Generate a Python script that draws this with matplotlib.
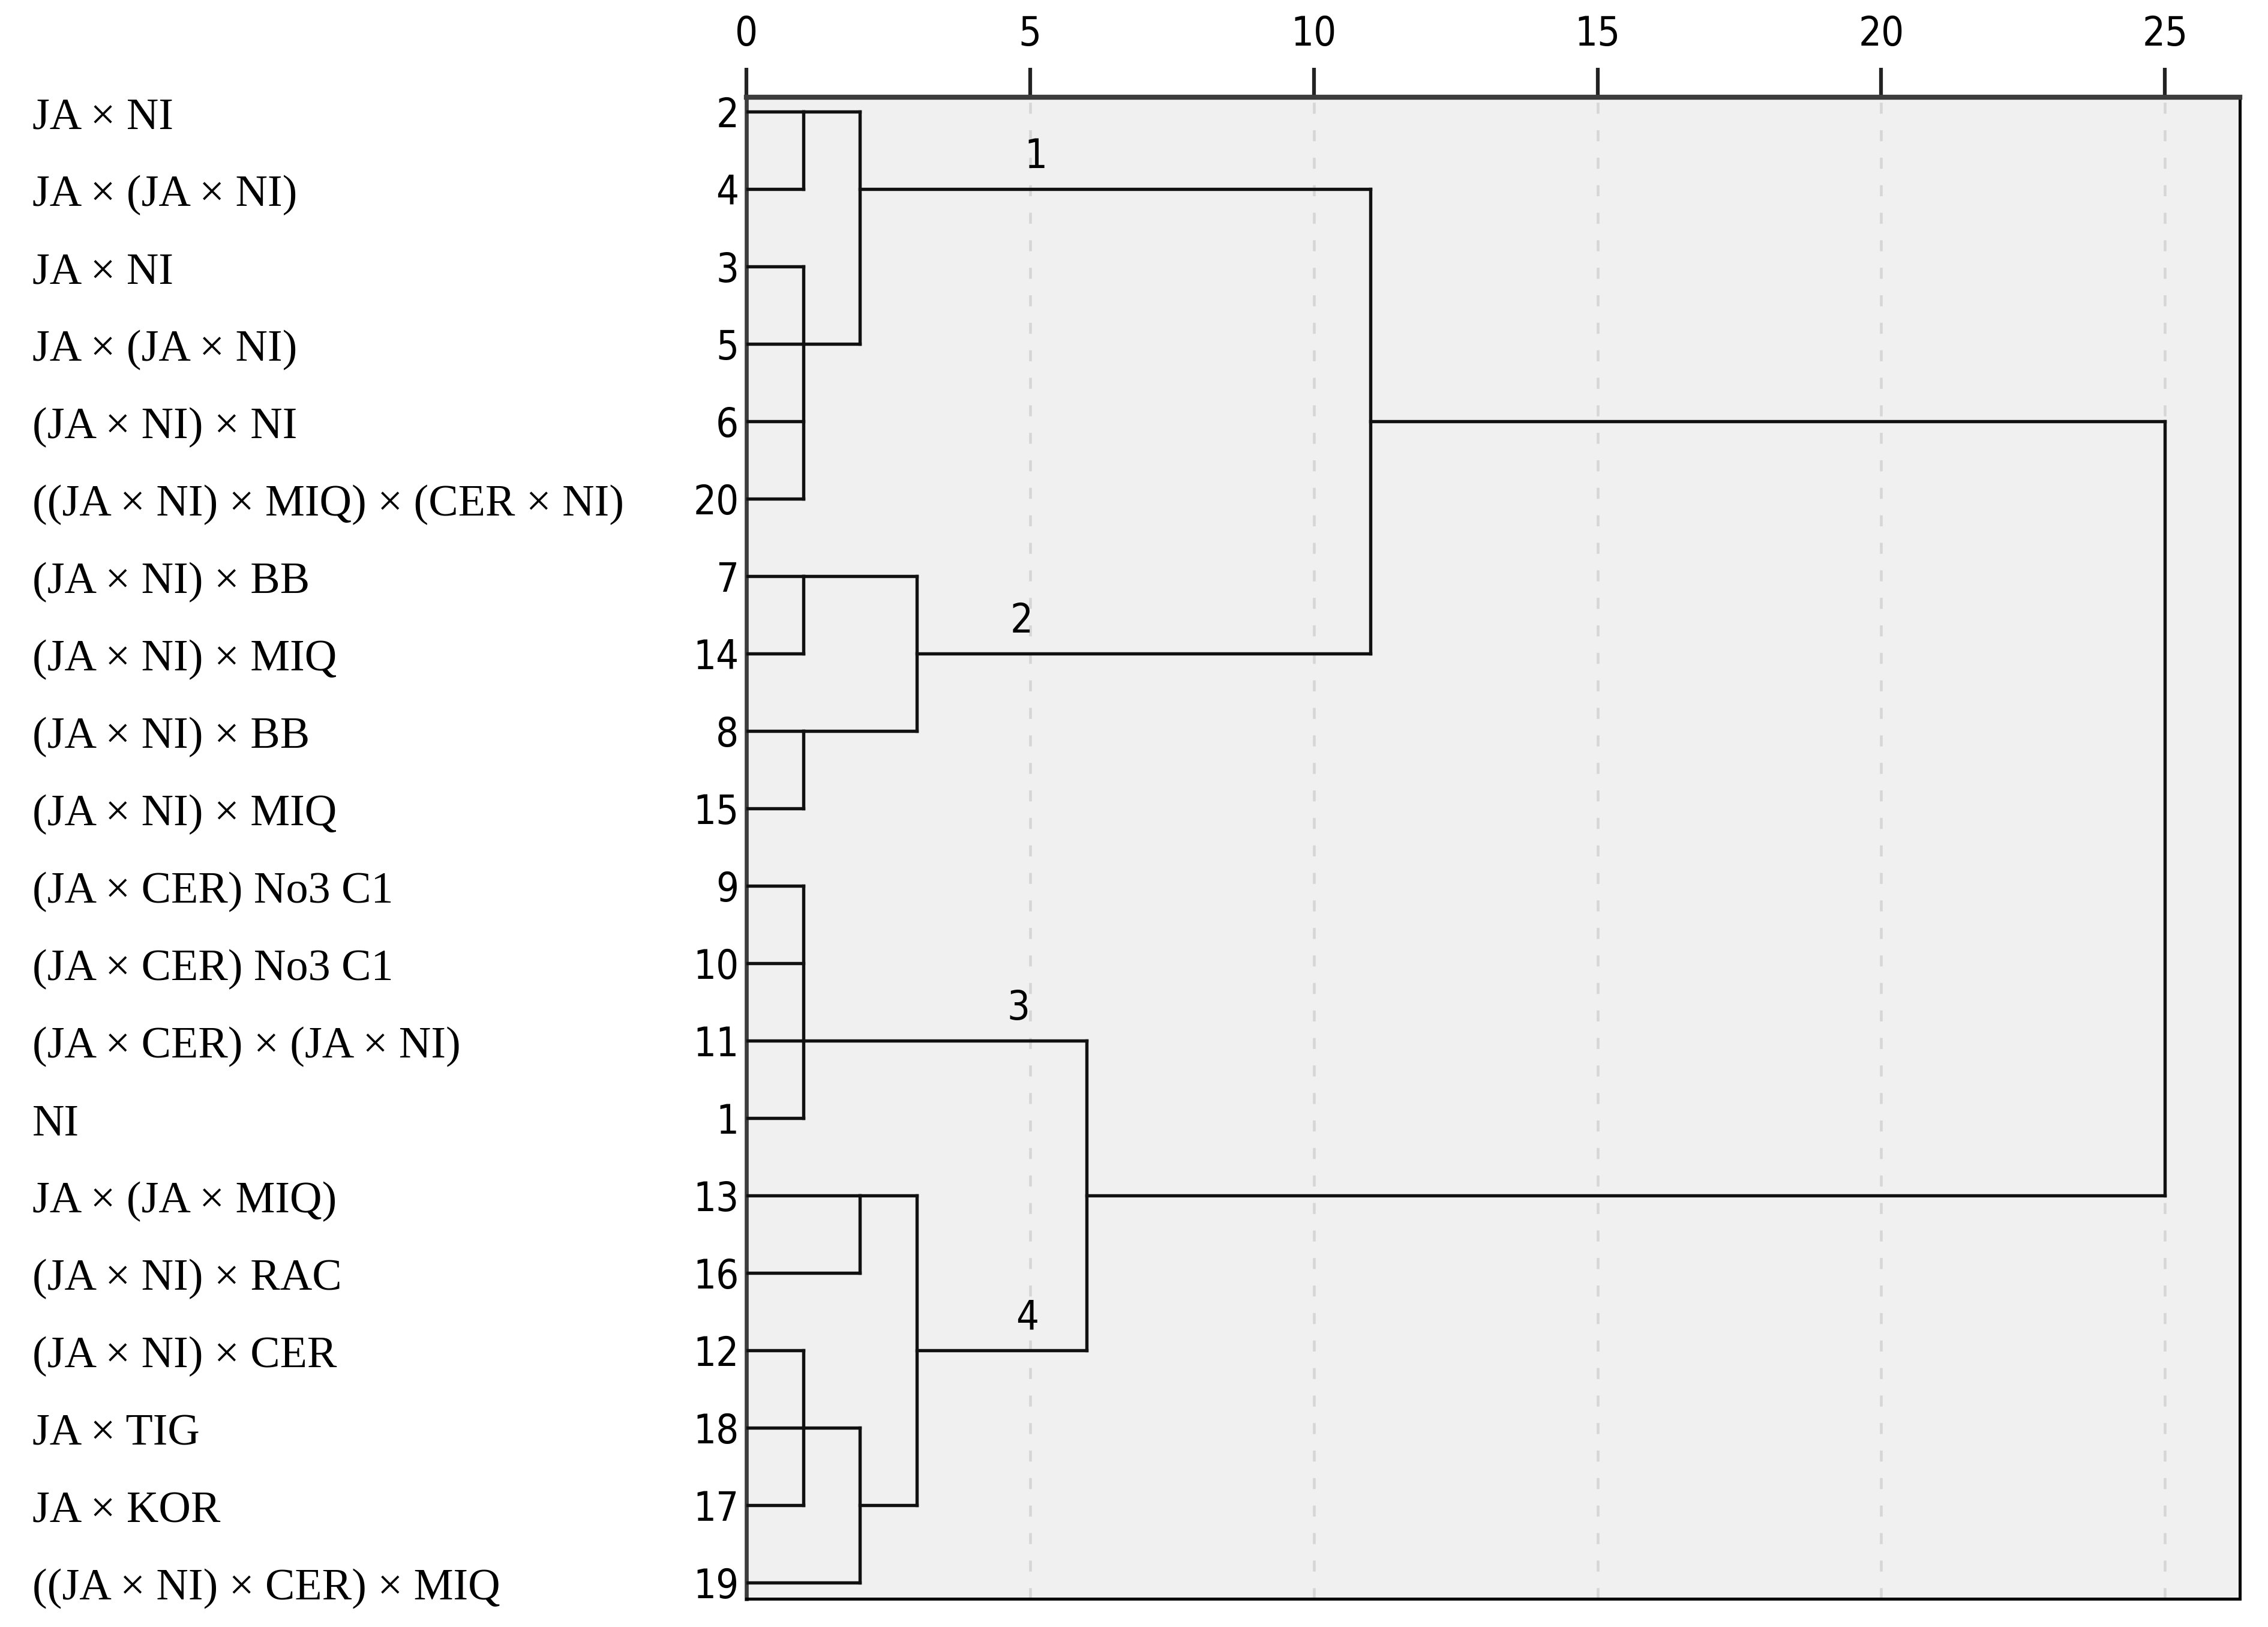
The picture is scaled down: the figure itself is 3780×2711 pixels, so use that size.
import matplotlib
matplotlib.use('Agg')
from matplotlib import pyplot as plt
from matplotlib import font_manager, transforms

# leaves from top to bottom
leaf_ids = [2, 4, 3, 5, 6, 20, 7, 14, 8, 15, 9, 10, 11, 1, 13, 16, 12, 18, 17, 19]
leaf_names = ["JA × NI", "JA × (JA × NI)", "JA × NI", "JA × (JA × NI)",
              "(JA × NI) × NI", "((JA × NI) × MIQ) × (CER × NI)",
              "(JA × NI) × BB", "(JA × NI) × MIQ", "(JA × NI) × BB",
              "(JA × NI) × MIQ", "(JA × CER) No3 C1", "(JA × CER) No3 C1",
              "(JA × CER) × (JA × NI)", "NI", "JA × (JA × MIQ)",
              "(JA × NI) × RAC", "(JA × NI) × CER", "JA × TIG", "JA × KOR",
              "((JA × NI) × CER) × MIQ"]

# merges (rescaled distance), children are leaf ids or node names
node_names = ['A', 'B', 'C', 'D', 'E', 'F', 'G', 'H', 'I', 'J', 'K', 'L', 'M', 'root']
node_children = [[2, 4], [3, 5, 6, 20], ['A', 'B'], [7, 14], [8, 15], ['D', 'E'],
                 ['C', 'F'], [9, 10, 11, 1], [13, 16], [12, 18, 17], ['J', 19],
                 ['I', 'K'], ['H', 'L'], ['G', 'M']]
node_heights = [1, 1, 2, 1, 1, 3, 11, 1, 2, 1, 2, 3, 6, 25]
node_exit_leaf = [2, 5, 4, 7, 8, 14, 6, 11, 13, 18, 17, 12, 13, None]

# cluster numbers written above the lines
cluster_labels = ['1', '2', '3', '4']
cluster_nodes = ['C', 'F', 'H', 'L']
cluster_x = [5.1, 4.85, 4.8, 4.95]

x_ticks = [0, 5, 10, 15, 20, 25]

names_avail = {f.name for f in font_manager.fontManager.ttflist}
condensed = any(f.name == 'DejaVu Sans' and f.stretch == 'condensed'
                for f in font_manager.fontManager.ttflist)
if 'Liberation Sans Narrow' in names_avail:
    num_font = dict(family='Liberation Sans Narrow')
elif condensed:
    num_font = dict(family='DejaVu Sans', stretch='condensed')
else:
    num_font = dict(family='DejaVu Sans')
lab_font = 'Liberation Serif'

fig = plt.figure(figsize=(12.6, 9.0367), dpi=300)
ax = fig.add_axes([0.3291, 0.01734, 0.9876 - 0.3291, 0.9229])
ax.set_facecolor('#f0f0f0')

row_of = {leaf: i for i, leaf in enumerate(leaf_ids)}
height_of = dict(zip(node_names, node_heights))
exit_of = dict(zip(node_names, node_exit_leaf))

line_kw = dict(color='#111111', lw=1.3, solid_capstyle='projecting', zorder=3)
for name, children, h in zip(node_names, node_children, node_heights):
    rows = []
    for c in children:
        if isinstance(c, str):
            cx = height_of[c]
            cr = row_of[exit_of[c]]
        else:
            cx = 0
            cr = row_of[c]
        ax.plot([cx, h], [cr, cr], **line_kw)
        rows.append(cr)
    ax.plot([h, h], [min(rows), max(rows)], **line_kw)

for lab, node, x in zip(cluster_labels, cluster_nodes, cluster_x):
    r = row_of[exit_of[node]]
    ax.annotate(lab, (x, r), xytext=(0, 5), textcoords='offset points',
                ha='center', va='bottom', fontsize=16, zorder=4, **num_font)

ax.set_xlim(0, 26.32)
ax.set_ylim(19.21, -0.186)

ax.xaxis.tick_top()
ax.set_xticks(x_ticks)
ax.set_xticklabels([str(t) for t in x_ticks], fontsize=16, **num_font)
ax.tick_params(axis='x', direction='out', length=11.7, width=1.5, color='#222222', pad=5.5)

ax.set_yticks(range(len(leaf_ids)))
ax.set_yticklabels([str(i) for i in leaf_ids], fontsize=16, **num_font)
ax.tick_params(axis='y', length=0, pad=3)

ax.grid(axis='x', color='#d6d6d6', linestyle=(0, (4, 6)), lw=1.1, zorder=1)
ax.set_axisbelow(True)

ax.spines['top'].set_color('#3c3c3c')
ax.spines['top'].set_linewidth(2.0)
ax.spines['left'].set_color('#3c3c3c')
ax.spines['left'].set_linewidth(1.6)
ax.spines['right'].set_color('black')
ax.spines['right'].set_linewidth(1.2)
ax.spines['bottom'].set_color('black')
ax.spines['bottom'].set_linewidth(1.2)

# row names at the far left, a bit below the row centre like the original
lab_trans = transforms.blended_transform_factory(fig.transFigure, ax.transData) + \
    transforms.ScaledTranslation(0, -2.6 / 72, fig.dpi_scale_trans)
for i, nm in enumerate(leaf_names):
    fig.text(0.0143, i, nm, transform=lab_trans,
             fontsize=17.8, family=lab_font, va='center', ha='left')

fig.savefig('out.png', dpi=300)
